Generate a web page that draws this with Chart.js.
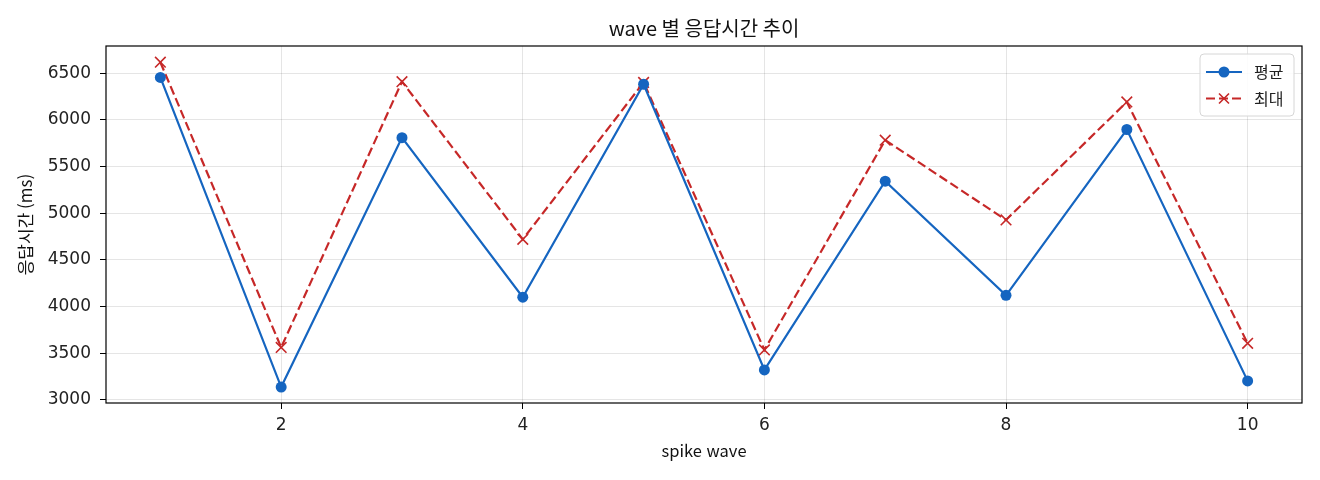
<!DOCTYPE html>
<html lang="ko">
<head>
  <meta charset="utf-8" />
  <title>wave 별 응답시간 추이</title>
  <script src="https://cdn.jsdelivr.net/npm/chart.js"></script>
  <style>
    html, body { margin: 0; padding: 0; background: #fff; }
    #wrap { width: 1320px; height: 480px; }
  </style>
</head>
<body>
  <div id="wrap"><canvas id="waveChart"></canvas></div>

  <script>
    // values
    const waves = [1, 2, 3, 4, 5, 6, 7, 8, 9, 10];
    const avgMs = [6455, 3137, 5810, 4100, 6382, 3321, 5343, 4120, 5897, 3203];
    const maxMs = [6618, 3562, 6410, 4720, 6402, 3535, 5783, 4928, 6192, 3606];
    const xTicks = [2, 4, 6, 8, 10];
    const yTicks = [3000, 3500, 4000, 4500, 5000, 5500, 6000, 6500];

    const BLUE = '#1565c0';
    const RED = '#c62828';
    const KR = "'Noto Sans CJK KR', 'Noto Sans', sans-serif";
    const NUM = "'DejaVu Sans', 'Noto Sans CJK KR', sans-serif";

    // box around the plot (matplotlib-style spines)
    const frame = {
      id: 'frame',
      afterDraw(chart) {
        const { ctx, chartArea: a } = chart;
        ctx.save();
        ctx.strokeStyle = '#000';
        ctx.lineWidth = 1.2;
        ctx.strokeRect(a.left, a.top, a.right - a.left, a.bottom - a.top);
        ctx.restore();
      }
    };

    // legend in the upper right corner of the plot
    const cornerLegend = {
      id: 'cornerLegend',
      afterDraw(chart) {
        const { ctx, chartArea: a } = chart;
        const w = 94, h = 62;
        const x = a.right - 8 - w, y = a.top + 8;
        ctx.save();
        ctx.beginPath();
        ctx.roundRect(x, y, w, h, 4);
        ctx.fillStyle = 'rgba(255,255,255,0.85)';
        ctx.fill();
        ctx.strokeStyle = '#d6d6d6';
        ctx.lineWidth = 1;
        ctx.stroke();

        chart.data.datasets.forEach((ds, i) => {
          const cy = y + 18 + i * 26.5;
          const x0 = x + 6, x1 = x + 42, cx = (x0 + x1) / 2;
          ctx.strokeStyle = ds.borderColor;
          ctx.lineWidth = ds.borderWidth;
          ctx.setLineDash(ds.borderDash || []);
          ctx.beginPath();
          ctx.moveTo(x0, cy);
          ctx.lineTo(x1, cy);
          ctx.stroke();
          ctx.setLineDash([]);
          if (ds.pointStyle === 'circle') {
            ctx.fillStyle = ds.pointBackgroundColor;
            ctx.beginPath();
            ctx.arc(cx, cy, ds.pointRadius, 0, Math.PI * 2);
            ctx.fill();
          } else {
            const r = 5;
            ctx.lineWidth = 1.6;
            ctx.beginPath();
            ctx.moveTo(cx - r, cy - r); ctx.lineTo(cx + r, cy + r);
            ctx.moveTo(cx - r, cy + r); ctx.lineTo(cx + r, cy - r);
            ctx.stroke();
          }
          ctx.fillStyle = '#222';
          ctx.font = '16px ' + KR;
          ctx.textBaseline = 'middle';
          ctx.fillText(ds.label, x + 54, cy);
        });
        ctx.restore();
      }
    };

    const grid = {
      color: 'rgba(0,0,0,0.1)',
      lineWidth: 1,
      tickColor: '#000',
      tickLength: 6,
      tickWidth: 1
    };

    new Chart(document.getElementById('waveChart'), {
      type: 'line',
      data: {
        datasets: [
          {
            label: '평균',
            data: waves.map((w, i) => ({ x: w, y: avgMs[i] })),
            borderColor: BLUE,
            backgroundColor: BLUE,
            borderWidth: 2.2,
            pointStyle: 'circle',
            pointRadius: 5.5,
            pointBackgroundColor: BLUE,
            pointBorderWidth: 0,
            tension: 0
          },
          {
            label: '최대',
            data: waves.map((w, i) => ({ x: w, y: maxMs[i] })),
            borderColor: RED,
            backgroundColor: RED,
            borderWidth: 2.2,
            borderDash: [9, 4],
            pointStyle: 'crossRot',
            pointRadius: 7.5,
            pointBorderColor: RED,
            pointBorderWidth: 1.6,
            tension: 0
          }
        ]
      },
      options: {
        responsive: true,
        maintainAspectRatio: false,
        animation: false,
        events: [],
        layout: { padding: { left: 0, right: 18, top: 0, bottom: 0 } },
        plugins: {
          legend: { display: false },
          tooltip: { enabled: false },
          title: {
            display: true,
            text: 'wave 별 응답시간 추이',
            fullSize: false,
            color: '#111',
            font: { family: KR, size: 20, weight: 'normal', lineHeight: 1.2 },
            padding: { top: 16, bottom: 6 }
          }
        },
        scales: {
          x: {
            type: 'linear',
            min: 0.55,
            max: 10.45,
            afterBuildTicks: (s) => { s.ticks = xTicks.map(v => ({ value: v })); },
            afterFit: (s) => { s.height = 77; },
            grid: grid,
            border: { display: false },
            ticks: {
              color: '#222',
              font: { family: NUM, size: 17 },
              padding: 6,
              maxRotation: 0,
              callback: (v) => String(v)
            },
            title: {
              display: true,
              text: 'spike wave',
              color: '#111',
              font: { family: KR, size: 16.5, lineHeight: 1.2 },
              padding: { top: 0, bottom: 19 }
            }
          },
          y: {
            min: 2966,
            max: 6792,
            afterBuildTicks: (s) => { s.ticks = yTicks.map(v => ({ value: v })); },
            afterFit: (s) => { s.width = 106; },
            grid: grid,
            border: { display: false },
            ticks: {
              color: '#222',
              font: { family: NUM, size: 17 },
              padding: 9,
              callback: (v) => String(v)
            },
            title: {
              display: true,
              text: '응답시간 (ms)',
              color: '#111',
              font: { family: KR, size: 17, lineHeight: 1.2 },
              padding: { top: 15, bottom: 0 }
            }
          }
        }
      },
      plugins: [frame, cornerLegend]
    });
  </script>
</body>
</html>
